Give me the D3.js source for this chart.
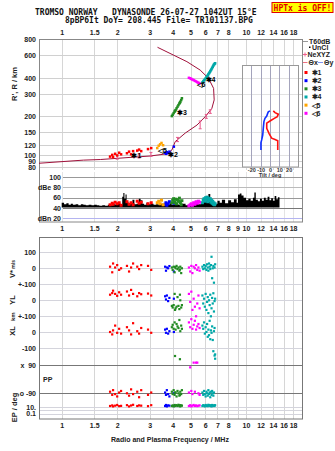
<!DOCTYPE html>
<html>
<head>
<meta charset="utf-8">
<script src="https://cdn.jsdelivr.net/npm/d3@7/dist/d3.min.js"></script>
<style>
body { margin: 0; background: #fff; }
svg { display: block; font-family: "Liberation Sans", Arial, sans-serif; }
</style>
</head>
<body>
<div id="chart"></div>
<script>
// ---------- values ----------
var titleLine1 = "TROMSO NORWAY   DYNASONDE 26-07-27 1042UT 15°E";
var titleLine2 = "8pBP6It DoY= 208.445 File= TR101137.BPG";
var statusText = "HPTx is OFF!";

var freqTicksTop = [1, 1.5, 2, 3, 4, 5, 6, 7, 8, 10, 12, 14, 16, 18];
var freqTicksMid = [1, 1.5, 2, 3, 4, 5, 6, 7, 8, 9, 10, 12, 14, 16, 18];
var heightTicks = [800, 600, 400, 300, 200, 150, 120, 100, 90, 80];
var dbTicks = [100, 80, 60, 40, 20];
var dbLabels = ["100", "dBe 80", "60", "40", "dBn 20"];
var tiltTicks = [-20, -10, 0, 10, 20];

var seriesNames = ["✱1", "✱2", "✱3", "✱4", "◁5", "◁6"];

// echoes: [freq MHz, virtual height km, amplitude dB, V* m/s, YL km, XL km, PP deg, EP deg]
var echo1 = [
  [1.83, 97, 46, 10, 35, 0, -80, 20], [1.88, 100, 49, -25, 45, -15, -100, 30],
  [1.90, 96, 47, 30, 60, 10, -70, 15], [1.95, 102, 51, 5, 40, 40, -95, 25],
  [2.00, 99, 48, 20, 28, -5, -110, 40], [2.05, 104, 50, -10, 50, 20, -85, 18],
  [2.10, 101, 45, 0, 35, -10, -75, 22], [2.26, 103, 52, 15, 55, 30, -90, 35],
  [2.32, 106, 47, -20, 30, 10, -105, 15], [2.38, 101, 50, 5, 65, -15, -65, 28],
  [2.44, 107, 46, 30, 40, 55, -95, 45], [2.57, 108, 53, 10, 25, 5, -80, 20],
  [2.63, 110, 49, -5, 45, -10, -115, 30], [2.70, 107, 51, 20, 38, 25, -70, 25],
  [2.94, 111, 48, 15, 42, 15, -100, 18], [3.06, 113, 50, -10, 30, -5, -85, 35]
];
var echo2 = [
  [3.64, 104, 47, 10, 25, 15, -85, 20], [3.68, 102, 50, -15, 5, -5, -100, 40],
  [3.72, 105, 45, 5, 30, 20, -70, 15], [3.78, 103, 48, 0, -5, -10, -95, 30],
  [3.84, 106, 52, 14, 15, 5, -110, 25], [4.06, 116, 49, -20, 10, 0, -90, 20]
];
var echo3 = [
  [3.96, 201, 50, 5, -35, 30, -80, 20], [4.00, 206, 55, -10, -45, 45, -95, 30],
  [4.05, 212, 58, 10, -30, 20, -70, 15], [4.10, 218, 52, -25, 40, 60, -100, 40],
  [4.15, 224, 57, 0, -50, 15, -85, 25], [4.20, 231, 48, 15, -40, 50, -110, 35],
  [4.25, 238, 56, -5, 20, 35, -75, 20], [4.30, 245, 53, 5, -35, 25, -90, 45],
  [4.35, 252, 59, -15, -55, 75, -105, 20], [4.40, 260, 50, 10, 0, 5, -80, 15],
  [4.45, 268, 46, -30, -45, 40, -95, 30], [4.49, 277, 54, 0, -30, 20, -70, 25],
  [4.12, 221, 50, 8, -60, -150, -85, 20], [4.38, 256, 52, -8, 35, -170, -100, 35]
];
var echo4 = [
  [5.80, 368, 50, 10, 30, 40, -85, 20], [5.86, 375, 55, -5, -20, 20, -100, 35],
  [5.92, 382, 58, 20, 10, 60, -75, 25], [5.98, 389, 53, 0, -40, -10, -95, 15],
  [6.04, 396, 60, 15, 40, 30, -110, 40], [6.10, 404, 57, -10, -60, 0, -80, 20],
  [6.15, 411, 61, 25, -10, 50, -90, 30], [6.20, 418, 52, 5, 20, -30, -105, 18],
  [6.25, 426, 59, -15, -80, 15, -70, 45], [6.30, 434, 56, 30, 0, -20, -95, 25],
  [6.35, 442, 54, 10, -30, 70, -85, 35], [6.40, 450, 58, -5, 35, -45, -115, 20],
  [6.45, 459, 51, 20, -100, 10, -80, 30], [6.50, 468, 55, 72, -50, -5, -100, 15],
  [6.55, 478, 49, -62, 15, 35, -75, 40], [6.60, 488, 53, 0, -20, -50, -90, 25],
  [6.65, 498, 47, 15, 44, -120, -105, 20], [6.70, 508, 50, -90, -70, 5, -85, 30],
  [6.75, 514, 46, 5, -5, 25, 150, 20], [6.80, 520, 48, 25, 10, -140, 130, 35]
];
var echo5 = [
  [3.30, 113, 50, null, null, null, null, null], [3.36, 118, 53, null, null, null, null, null],
  [3.42, 121, 48, null, null, null, null, null], [3.48, 124, 55, null, null, null, null, null],
  [3.55, 119, 46, null, null, null, null, null]
];
var echo6 = [
  [4.90, 400, 44, 5, 40, 60, -85, 20], [4.98, 397, 46, -20, -10, 30, 75, 35],
  [5.05, 392, 48, 15, 54, 80, -75, 15], [5.12, 388, 45, -30, -60, 20, -95, 25],
  [5.20, 384, 50, 10, 10, 45, 105, 40], [5.28, 379, 47, 0, -40, 70, -80, 20],
  [5.36, 375, 52, 20, -100, 15, 105, 30], [5.44, 370, 49, -10, -20, 35, 105, 18],
  [5.52, 366, 53, 5, 30, 50, -90, 25], [5.60, 362, 51, -15, -50, 25, -100, 30]
];
var echoSets = [echo1, echo2, echo3, echo4, echo5, echo6];

// where the series names are written (freq, height)
var labelF = [2.39, 3.77, 4.22, 6.03, 3.33, 5.39];
var labelH = [94, 96, 205, 368, 103, 339];

// true height profile
var profileF = [0.75, 1.31, 1.62, 2.0, 2.45, 3.02, 3.72, 3.96, 4.13, 4.68, 5.42, 6.01, 6.53, 6.72, 6.67, 6.26, 5.64, 4.78, 3.31];
var profileH = [86, 91, 92, 94, 96, 98, 102, 109, 127, 148, 171, 199, 231, 269, 331, 397, 460, 535, 693];

// NeXYZ points with height error
var neF = [2.0, 2.63, 3.05, 4.25, 5.64, 6.09, 6.4];
var neH = [96, 98, 101, 132, 172, 200, 218];
var neErr = [3.5, 3.5, 3.6, 5, 12, 7, 7];

// tilt profiles
var tiltH = [109, 129, 132, 135, 146, 161, 177, 184, 193, 199, 208, 214, 221];
var tiltX = [8.3, 8.3, 5.4, 1.8, -0.8, -3.5, -3.5, 0, 4.6, 7.8, 8.9, 5.4, 3.5];
var tiltYH = [109, 125, 131, 143, 161, 182, 193, 201, 211, 217, 221];
var tiltY = [-9.7, -9.7, -8.9, -7.8, -7.2, -6.5, -5.4, -3.5, -2.5, -1.8, 0];

// noise amplitude
var noiseF = [1.00, 1.03, 1.06, 1.09, 1.12, 1.15, 1.19, 1.23, 1.27, 1.31, 1.35, 1.40, 1.45, 1.50, 1.55, 1.60, 1.66, 1.72, 1.78, 1.84,
  1.90, 1.96, 2.02, 2.08, 2.13, 2.16, 2.19, 2.22, 2.25, 2.30, 2.36, 2.42, 2.48, 2.55, 2.62, 2.68, 2.74, 2.80, 2.88, 2.95,
  3.05, 3.15, 3.25, 3.35, 3.45, 3.55, 3.65, 3.75, 3.85, 3.95, 4.10, 4.30, 4.50, 4.70, 4.90, 5.10, 5.30, 5.50, 5.70, 5.90,
  6.10, 6.25, 6.40, 6.60, 6.80, 7.00, 7.20, 7.40, 7.70, 8.00, 8.30, 8.60, 8.90, 9.05, 9.25, 9.45, 9.70, 10.0, 10.3, 10.6,
  10.9, 11.1, 11.3, 11.6, 11.9, 12.2, 12.5, 12.8, 13.1, 13.4, 13.7, 14.0, 14.3, 14.6, 14.9, 15.2];
var noiseDb = [50, 47, 49, 46, 48, 46, 47, 45, 47, 46, 45, 46, 45, 46, 45, 44, 45, 44, 46, 45,
  47, 46, 48, 46, 62, 69, 58, 66, 52, 47, 49, 56, 47, 48, 58, 55, 48, 46, 50, 47,
  48, 46, 47, 46, 48, 45, 47, 46, 49, 46, 47, 46, 48, 45, 47, 46, 48, 47, 50, 52,
  58, 67, 55, 50, 48, 54, 50, 56, 49, 55, 51, 57, 50, 66, 68, 64, 60, 55, 58, 54,
  60, 70, 56, 53, 58, 54, 60, 56, 62, 55, 59, 54, 63, 57, 61, 55];

// ---------- drawing ----------
var colors = ["#ff0000", "#0000ff", "#228b22", "#00a8a8", "#ffa500", "#ff00ff"];
var L = 39, R = 302;

var svg = d3.select("#chart").append("svg").attr("width", 335).attr("height", 451);

var x = d3.scaleLog().domain([1, 10]).range([61.7, 246]);
var yH = d3.scaleLog().domain([80, 800]).range([167.3, 39.3]);
var yDb = d3.scaleLinear().domain([20, 100]).range([218, 177.3]);
var yV = d3.scaleLinear().domain([-100, 100]).range([284.3, 252.3]);
var yYL = d3.scaleLinear().domain([-100, 100]).range([316.3, 284.3]);
var yXL = d3.scaleLinear().domain([-100, 100]).range([348, 316]);
var yPP = d3.scaleLinear().domain([-90, 90]).range([393.3, 365]);
var yEP = d3.scaleLog().domain([0.1, 10]).range([413.7, 407]);
var xT = d3.scaleLinear().domain([-30, 30]).range([242, 298]);

var defs = svg.append("defs");
defs.append("clipPath").attr("id", "clipUp").append("rect")
  .attr("x", L).attr("y", 39).attr("width", R - L).attr("height", 131);
defs.append("clipPath").attr("id", "clipDb").append("rect")
  .attr("x", L).attr("y", 171).attr("width", R - L).attr("height", 51);
defs.append("clipPath").attr("id", "clipLow").append("rect")
  .attr("x", L).attr("y", 237).attr("width", R - L).attr("height", 182);

// title
svg.append("text").attr("x", 35).attr("y", 14.5).attr("font-family", "DejaVu Sans Mono")
  .attr("font-weight", "bold").attr("font-size", 8).attr("fill", "#111")
  .style("white-space", "pre").text(titleLine1);
svg.append("text").attr("x", 65).attr("y", 23.2).attr("font-family", "DejaVu Sans Mono")
  .attr("font-weight", "bold").attr("font-size", 8).attr("fill", "#111")
  .style("white-space", "pre").text(titleLine2);
svg.append("rect").attr("x", 272).attr("y", 2.5).attr("width", 61).attr("height", 10)
  .attr("fill", "#ffff00").attr("stroke", "#e00000");
svg.append("text").attr("x", 302.5).attr("y", 10.6).attr("text-anchor", "middle")
  .attr("font-family", "DejaVu Sans Mono").attr("font-weight", "bold").attr("font-size", 8)
  .attr("fill", "#e00000").text(statusText);

// grids
function vGrid(ticks, y0, y1, col) {
  svg.append("g").selectAll("line").data(ticks).join("line")
    .attr("x1", d => Math.round(x(d)) + 0.5).attr("x2", d => Math.round(x(d)) + 0.5)
    .attr("y1", y0).attr("y2", y1).attr("stroke", col);
}
function hGrid(vals, scale, x0, col) {
  svg.append("g").selectAll("line").data(vals).join("line")
    .attr("x1", x0).attr("x2", R)
    .attr("y1", d => Math.round(scale(d)) + 0.5).attr("y2", d => Math.round(scale(d)) + 0.5)
    .attr("stroke", col);
}
vGrid(freqTicksTop, 39, 170, "#d6d6d6");
vGrid(freqTicksMid, 172, 222, "#e4e4e4");
vGrid(freqTicksMid, 237, 419, "#d6d6d6");
hGrid(heightTicks.slice(1), yH, L, "#d0d0d0");

var dbColor = {100: "#999", 80: "#bbb", 60: "#999", 40: "#777", 20: "#b4b4f0"};
dbTicks.forEach(function (d) {
  svg.append("line").attr("x1", 63).attr("x2", R)
    .attr("y1", Math.round(yDb(d)) + 0.5).attr("y2", Math.round(yDb(d)) + 0.5)
    .attr("stroke", dbColor[d]);
});

hGrid([100, 0, -100], yV, L, "#d4d4dc");
hGrid([0, -100], yYL, L, "#d4d4dc");
hGrid([0, -100], yXL, L, "#d4d4dc");
hGrid([10, 1, 0.1], yEP, L, "#d4d4dc");
hGrid([90, -90], yPP, L, "#777");

// frames
svg.append("rect").attr("x", L + 0.5).attr("y", 39.5).attr("width", R - L).attr("height", 182.5)
  .attr("fill", "none").attr("stroke", "#888");
svg.append("rect").attr("x", L + 0.5).attr("y", 237.5).attr("width", R - L).attr("height", 181.5)
  .attr("fill", "none").attr("stroke", "#777");

// upper panel: profile, NeXYZ, echoes
var up = svg.append("g").attr("clip-path", "url(#clipUp)");
up.append("path")
  .datum(profileF.map((f, i) => [f, profileH[i]]))
  .attr("fill", "none").attr("stroke", "#a0103a").attr("stroke-width", 1)
  .attr("d", d3.line().x(d => x(d[0])).y(d => yH(d[1])));

var ne = up.append("g").attr("stroke", "#e85a8c").attr("stroke-width", 1);
neF.forEach(function (f, i) {
  var cx = x(f), y0 = yH(neH[i] - neErr[i]), y1 = yH(neH[i] + neErr[i]);
  ne.append("line").attr("x1", cx).attr("x2", cx).attr("y1", y0).attr("y2", y1);
  ne.append("line").attr("x1", cx - 1.5).attr("x2", cx + 1.5).attr("y1", y0).attr("y2", y0);
  ne.append("line").attr("x1", cx - 1.5).attr("x2", cx + 1.5).attr("y1", y1).attr("y2", y1);
});

echoSets.forEach(function (rows, s) {
  up.append("g").selectAll("rect").data(rows).join("rect")
    .attr("x", d => x(d[0]) - 1.25).attr("y", d => yH(d[1]) - 1.25)
    .attr("width", 2.5).attr("height", 2.5).attr("fill", colors[s]);
});

up.append("g").selectAll("text").data(seriesNames).join("text")
  .attr("x", (d, i) => x(labelF[i])).attr("y", (d, i) => yH(labelH[i]))
  .attr("font-size", 7).attr("font-weight", "bold").attr("fill", "#000")
  .text(d => d);

// tilt inset
var inset = svg.append("g");
inset.append("rect").attr("x", 242.5).attr("y", 65.5).attr("width", 56).attr("height", 101.5)
  .attr("fill", "#fff").attr("stroke", "#999");
inset.selectAll("line.h").data([400, 300, 200, 150, 120, 100, 90]).join("line")
  .attr("x1", 243).attr("x2", 298)
  .attr("y1", d => Math.round(yH(d)) + 0.5).attr("y2", d => Math.round(yH(d)) + 0.5)
  .attr("stroke", "#e2e2e2");
inset.selectAll("line.v").data(tiltTicks).join("line")
  .attr("x1", d => Math.round(xT(d)) + 0.5).attr("x2", d => Math.round(xT(d)) + 0.5)
  .attr("y1", 66).attr("y2", 167).attr("stroke", "#a4a4bc");
inset.append("path")
  .datum(tiltYH.map((h, i) => [tiltY[i], h]))
  .attr("fill", "none").attr("stroke", "#1030ff").attr("stroke-width", 1.6)
  .attr("d", d3.line().x(d => xT(d[0])).y(d => yH(d[1])));
inset.append("path")
  .datum(tiltH.map((h, i) => [tiltX[i], h]))
  .attr("fill", "none").attr("stroke", "#ff1010").attr("stroke-width", 1.6)
  .attr("d", d3.line().x(d => xT(d[0])).y(d => yH(d[1])));
var tAx = svg.append("g").attr("transform", "translate(0,167)")
  .call(d3.axisBottom(xT).tickValues(tiltTicks).tickSize(0).tickPadding(1.5).tickFormat(d => String(d)));
tAx.select(".domain").remove();
tAx.attr("font-size", 5.5).attr("font-family", null).attr("font-weight", "bold");
tAx.selectAll("text").attr("fill", "#333");
svg.append("text").attr("x", 270).attr("y", 177).attr("text-anchor", "middle")
  .attr("font-size", 5.5).attr("font-weight", "bold").attr("fill", "#333").text("Tilt / deg");

// amplitude strip
var amp = svg.append("g").attr("clip-path", "url(#clipDb)");
amp.append("path")
  .datum(noiseF.map((f, i) => [f, noiseDb[i]]))
  .attr("fill", "#000")
  .attr("d", d3.area().curve(d3.curveStepAfter).x(d => x(d[0])).y0(yDb(40.5)).y1(d => yDb(d[1])));
echoSets.forEach(function (rows, s) {
  amp.append("g").selectAll("rect").data(rows).join("rect")
    .attr("x", d => x(d[0]) - 1.5).attr("y", d => yDb(d[2]) - 1.5)
    .attr("width", 3).attr("height", 3).attr("fill", colors[s]);
});

// lower panel: V*, YL, XL, PP, EP
var low = svg.append("g").attr("clip-path", "url(#clipLow)");
var strips = [[3, yV], [4, yYL], [5, yXL], [6, yPP], [7, yEP]];
echoSets.forEach(function (rows, s) {
  var g = low.append("g").attr("fill", colors[s]);
  strips.forEach(function (st) {
    g.selectAll(null).data(rows.filter(d => d[st[0]] !== null)).join("rect")
      .attr("x", d => x(d[0]) - 1.1).attr("y", d => st[1](d[st[0]]) - 1.1)
      .attr("width", 2.2).attr("height", 2.2);
  });
});

// axes text
function styleAxis(g, size) {
  g.attr("font-size", size).attr("font-family", null).attr("font-weight", "bold");
  g.select(".domain").remove();
  g.selectAll("text").attr("fill", "#222").style("white-space", "pre");
  return g;
}
styleAxis(svg.append("g").attr("transform", "translate(0,39)")
  .call(d3.axisTop(x).tickValues(freqTicksTop).tickFormat(d => String(d)).tickSize(0).tickPadding(4)), 7);
styleAxis(svg.append("g").attr("transform", "translate(0,222)")
  .call(d3.axisBottom(x).tickValues(freqTicksMid).tickFormat(d => String(d)).tickSize(0).tickPadding(4.5)), 7);
styleAxis(svg.append("g").attr("transform", "translate(0,419)")
  .call(d3.axisBottom(x).tickValues(freqTicksTop).tickFormat(d => String(d)).tickSize(0).tickPadding(4.5)), 7);

styleAxis(svg.append("g").attr("transform", "translate(" + L + ",0)")
  .call(d3.axisLeft(yH).tickValues(heightTicks).tickFormat(d => String(d)).tickSize(0).tickPadding(3)), 7);
styleAxis(svg.append("g").attr("transform", "translate(62,0)")
  .call(d3.axisLeft(yDb).tickValues(dbTicks).tickFormat((d, i) => dbLabels[i]).tickSize(0).tickPadding(1)), 7);
styleAxis(svg.append("g").attr("transform", "translate(" + L + ",0)")
  .call(d3.axisLeft(yV).tickValues([100, 0, -100]).tickFormat(d => d === -100 ? "+-100" : String(d)).tickSize(0).tickPadding(3)), 7);
styleAxis(svg.append("g").attr("transform", "translate(" + L + ",0)")
  .call(d3.axisLeft(yYL).tickValues([0, -100]).tickFormat(d => d === -100 ? "+-100" : String(d)).tickSize(0).tickPadding(3)), 7);
styleAxis(svg.append("g").attr("transform", "translate(" + L + ",0)")
  .call(d3.axisLeft(yXL).tickValues([0, -100]).tickFormat(d => String(d)).tickSize(0).tickPadding(3)), 7);
styleAxis(svg.append("g").attr("transform", "translate(" + L + ",0)")
  .call(d3.axisLeft(yPP).tickValues([90, -90]).tickFormat(d => d > 0 ? "x  90" : "o -90").tickSize(0).tickPadding(3)), 7);
styleAxis(svg.append("g").attr("transform", "translate(" + L + ",0)")
  .call(d3.axisLeft(yEP).tickValues([10, 0.1]).tickFormat(d => d === 10 ? "10." : "0.1").tickSize(0).tickPadding(3)), 7);

svg.append("text").attr("x", 43).attr("y", 382).attr("font-size", 7).attr("font-weight", "bold")
  .attr("fill", "#222").text("PP");

// rotated titles
function vLabel(parts, bx, cy) {
  var t = svg.append("text").attr("transform", "translate(" + bx + "," + cy + ") rotate(-90)")
    .attr("text-anchor", "middle").attr("font-weight", "bold").attr("fill", "#222");
  parts.forEach(function (p) { t.append("tspan").attr("font-size", p[1]).text(p[0]); });
}
vLabel([["R', R / km", 7.5]], 16.5, 84);
vLabel([["V*", 7.5], [" m/s", 5]], 14.5, 269);
vLabel([["YL", 7.5]], 14.5, 300);
vLabel([["km", 6]], 14.5, 316.7);
vLabel([["XL", 7.5]], 14.5, 331);
vLabel([["EP / deg", 7.5]], 16.5, 407.5);

svg.append("text").attr("x", 170).attr("y", 441.5).attr("text-anchor", "middle")
  .attr("font-size", 7).attr("font-weight", "bold").attr("fill", "#222")
  .text("Radio and Plasma Frequency / MHz");

// legend
var lg = svg.append("g").attr("font-size", 7).attr("font-weight", "bold").attr("fill", "#222");
lg.append("line").attr("x1", 303).attr("x2", 308).attr("y1", 41.5).attr("y2", 41.5).attr("stroke", "#999");
lg.append("text").attr("x", 309).attr("y", 44).text("T60dB");
lg.append("rect").attr("x", 309).attr("y", 46.5).attr("width", 1.5).attr("height", 1.5).attr("fill", "#000");
lg.append("text").attr("x", 312).attr("y", 50).text("UnCl");
lg.append("line").attr("x1", 303).attr("x2", 307).attr("y1", 54.5).attr("y2", 54.5).attr("stroke", "#f06090");
lg.append("line").attr("x1", 305).attr("x2", 305).attr("y1", 52.5).attr("y2", 56.5).attr("stroke", "#f06090");
lg.append("text").attr("x", 307.5).attr("y", 57).text("NeXYZ");
lg.append("line").attr("x1", 303).attr("x2", 307.5).attr("y1", 62.5).attr("y2", 62.5).attr("stroke", "#f07080");
lg.append("text").attr("x", 308.5).attr("y", 65).text("Θx");
lg.append("line").attr("x1", 318).attr("x2", 323).attr("y1", 62.5).attr("y2", 62.5).attr("stroke", "#8090f0");
lg.append("text").attr("x", 324).attr("y", 65).text("Θy");
seriesNames.forEach(function (n, i) {
  var cy = 72.5 + i * 8.16;
  lg.append("rect").attr("x", 304.5).attr("y", cy - 1.5).attr("width", 3).attr("height", 3).attr("fill", colors[i]);
  lg.append("text").attr("x", 311.5).attr("y", cy + 2.5).text(n);
});
</script>
</body>
</html>
